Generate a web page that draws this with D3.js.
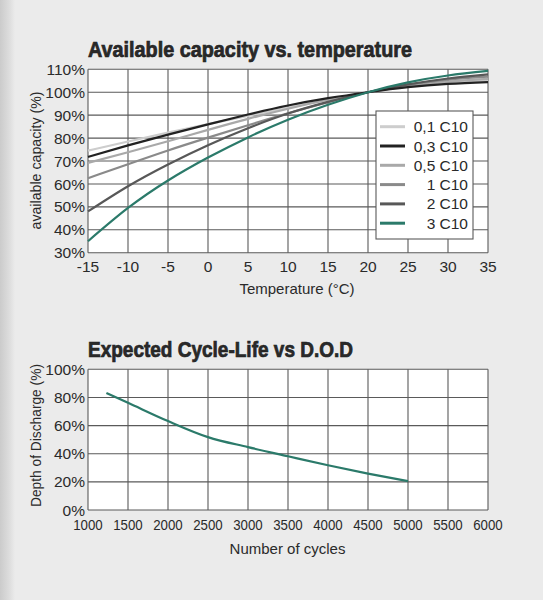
<!DOCTYPE html>
<html>
<head>
<meta charset="utf-8">
<script src="https://cdn.jsdelivr.net/npm/d3@7"></script>
<style>
html,body{margin:0;padding:0;background:#ebebeb;}
svg{display:block;}
text{font-family:"Liberation Sans",Arial,Helvetica,sans-serif;fill:#2a2a2a;}
</style>
</head>
<body>
<svg id="chart" width="543" height="600"></svg>
<script>
// ---- Data: Available capacity vs. temperature ----
const temperatures = [-15, -10, -5, 0, 5, 10, 15, 20, 25, 30, 35];
const seriesNames = ["0,1 C10", "0,3 C10", "0,5 C10", "1 C10", "2 C10", "3 C10"];
const cap01 = [74.5, 78.5, 82.4, 86.1, 89.7, 93.2, 96.7, 100, 102.6, 104.3, 105.3];
const cap03 = [71.8, 76.8, 81.5, 86.0, 90.3, 94.2, 97.4, 100, 102.2, 103.6, 104.4];
const cap05 = [69.2, 73.8, 78.6, 83.6, 88.4, 92.8, 96.7, 100, 102.8, 104.6, 105.8];
const cap1  = [62.5, 68.6, 74.6, 80.2, 85.6, 90.8, 95.6, 100, 103.2, 105.5, 106.8];
const cap2  = [48.0, 59.0, 68.5, 76.9, 84.3, 90.7, 95.8, 100, 103.4, 106.0, 107.8];
const cap3  = [35.0, 49.5, 61.5, 71.5, 80.3, 88.0, 94.5, 100, 104.3, 107.3, 109.3];
const seriesColors = ["#cdcdcd", "#222222", "#a9a9a9", "#8a8a8a", "#585858", "#2b7a6a"];
const tempTicks = [-15, -10, -5, 0, 5, 10, 15, 20, 25, 30, 35];
const capTicks = [30, 40, 50, 60, 70, 80, 90, 100, 110];

// ---- Data: Expected Cycle-Life vs D.O.D ----
const cycles = [1230, 1500, 2000, 2500, 3000, 3500, 4000, 4500, 5000];
const dod    = [83.2, 76.2, 63.2, 51.8, 44.7, 38.2, 31.8, 25.9, 20.5];
const cycleTicks = [1000, 1500, 2000, 2500, 3000, 3500, 4000, 4500, 5000, 5500, 6000];
const dodTicks = [0, 20, 40, 60, 80, 100];

const svg = d3.select("#chart");

// left shaded strip
const defs = svg.append("defs");
const grad = defs.append("linearGradient").attr("id", "strip").attr("x1", 0).attr("x2", 1);
grad.append("stop").attr("offset", "0%").attr("stop-color", "#cbcbcb");
grad.append("stop").attr("offset", "60%").attr("stop-color", "#dcdcdc");
grad.append("stop").attr("offset", "100%").attr("stop-color", "#ebebeb");
svg.append("rect").attr("x", 0).attr("y", 0).attr("width", 15).attr("height", 600).attr("fill", "url(#strip)");

const gridColor = "#5a5a5a";
const fontSize = 15.5;

function drawFrame(g, x, y, xTicks, yTicks, xFmt, yFmt, xTickLen) {
  const [x0, x1] = x.range();
  const [y0, y1] = y.range();
  g.append("rect").attr("x", x0).attr("y", y1).attr("width", x1 - x0).attr("height", y0 - y1)
    .attr("fill", "#ffffff");
  g.append("g").selectAll("line").data(xTicks).join("line")
    .attr("x1", d => x(d)).attr("x2", d => x(d)).attr("y1", y1).attr("y2", y0)
    .attr("stroke", gridColor).attr("stroke-width", 1.1);
  g.append("g").selectAll("line").data(yTicks).join("line")
    .attr("x1", x0).attr("x2", x1).attr("y1", d => y(d)).attr("y2", d => y(d))
    .attr("stroke", gridColor).attr("stroke-width", 1.1);
  g.append("g").selectAll("text").data(yTicks).join("text")
    .attr("x", x0 - 3).attr("y", d => y(d)).attr("dy", "0.36em")
    .attr("text-anchor", "end").attr("font-size", fontSize).text(yFmt);
  const xt = g.append("g").selectAll("text").data(xTicks).join("text")
    .attr("x", d => x(d)).attr("y", y0 + 19.5)
    .attr("text-anchor", "middle").attr("font-size", fontSize).text(xFmt);
  if (xTickLen) xt.attr("textLength", xTickLen).attr("lengthAdjust", "spacingAndGlyphs");
}

function title(txt, x, y, len) {
  svg.append("text").attr("x", x).attr("y", y)
    .attr("font-family", "'Liberation Sans Narrow','DejaVu Sans Condensed','Liberation Sans',Arial,sans-serif")
    .attr("font-weight", "bold").attr("font-size", 21.5).attr("fill", "#1e1e1e")
    .attr("stroke", "#1e1e1e").attr("stroke-width", 0.7)
    .attr("textLength", len).attr("lengthAdjust", "spacingAndGlyphs").text(txt);
}

// ================= Chart 1 =================
const x1 = d3.scaleLinear().domain([-15, 35]).range([88, 488]);
const y1 = d3.scaleLinear().domain([30, 110]).range([252.7, 69.3]);
const g1 = svg.append("g");
title("Available capacity vs. temperature", 88, 56.5, 324);
drawFrame(g1, x1, y1, tempTicks, capTicks, d => d, d => d + "%", null);

const series = [cap01, cap03, cap05, cap1, cap2, cap3];
const line1 = d3.line().x((d, i) => x1(temperatures[i])).y(d => y1(d)).curve(d3.curveNatural);
const order = [0, 2, 3, 4, 1, 5];
order.forEach(k => {
  g1.append("path").datum(series[k]).attr("d", line1)
    .attr("fill", "none").attr("stroke", seriesColors[k]).attr("stroke-width", 2.2);
});

// legend
const lg = g1.append("g");
lg.append("rect").attr("x", 376).attr("y", 111).attr("width", 97).attr("height", 128)
  .attr("fill", "#ffffff").attr("stroke", gridColor).attr("stroke-width", 1.1);
seriesNames.forEach((name, i) => {
  const yy = 126.7 + i * 19.3;
  lg.append("line").attr("x1", 380).attr("x2", 405).attr("y1", yy).attr("y2", yy)
    .attr("stroke", seriesColors[i]).attr("stroke-width", 3);
  lg.append("text").attr("x", 468).attr("y", yy).attr("dy", "0.36em")
    .attr("text-anchor", "end").attr("font-size", 15.5).text(name);
});

// axis titles
g1.append("text").attr("x", 297).attr("y", 293.5).attr("text-anchor", "middle")
  .attr("font-size", 15).text("Temperature (°C)");
g1.append("text").attr("transform", "translate(41,160.5) rotate(-90)")
  .attr("text-anchor", "middle").attr("font-size", 14.5)
  .attr("textLength", 138).attr("lengthAdjust", "spacingAndGlyphs")
  .text("available capacity (%)");

// ================= Chart 2 =================
const x2 = d3.scaleLinear().domain([1000, 6000]).range([88, 488]);
const y2 = d3.scaleLinear().domain([0, 100]).range([510, 369.3]);
const g2 = svg.append("g");
title("Expected Cycle-Life vs D.O.D", 88, 357, 265);
drawFrame(g2, x2, y2, cycleTicks, dodTicks, d => d, d => d + "%", 29.5);

const line2 = d3.line().x((d, i) => x2(cycles[i])).y(d => y2(d)).curve(d3.curveMonotoneX);
g2.append("path").datum(dod).attr("d", line2)
  .attr("fill", "none").attr("stroke", seriesColors[5]).attr("stroke-width", 2.2);

g2.append("text").attr("x", 287.5).attr("y", 554).attr("text-anchor", "middle")
  .attr("font-size", 15).text("Number of cycles");
g2.append("text").attr("transform", "translate(41,435.5) rotate(-90)")
  .attr("text-anchor", "middle").attr("font-size", 14.5)
  .attr("textLength", 143).attr("lengthAdjust", "spacingAndGlyphs")
  .text("Depth of Discharge (%)");
</script>
</body>
</html>
